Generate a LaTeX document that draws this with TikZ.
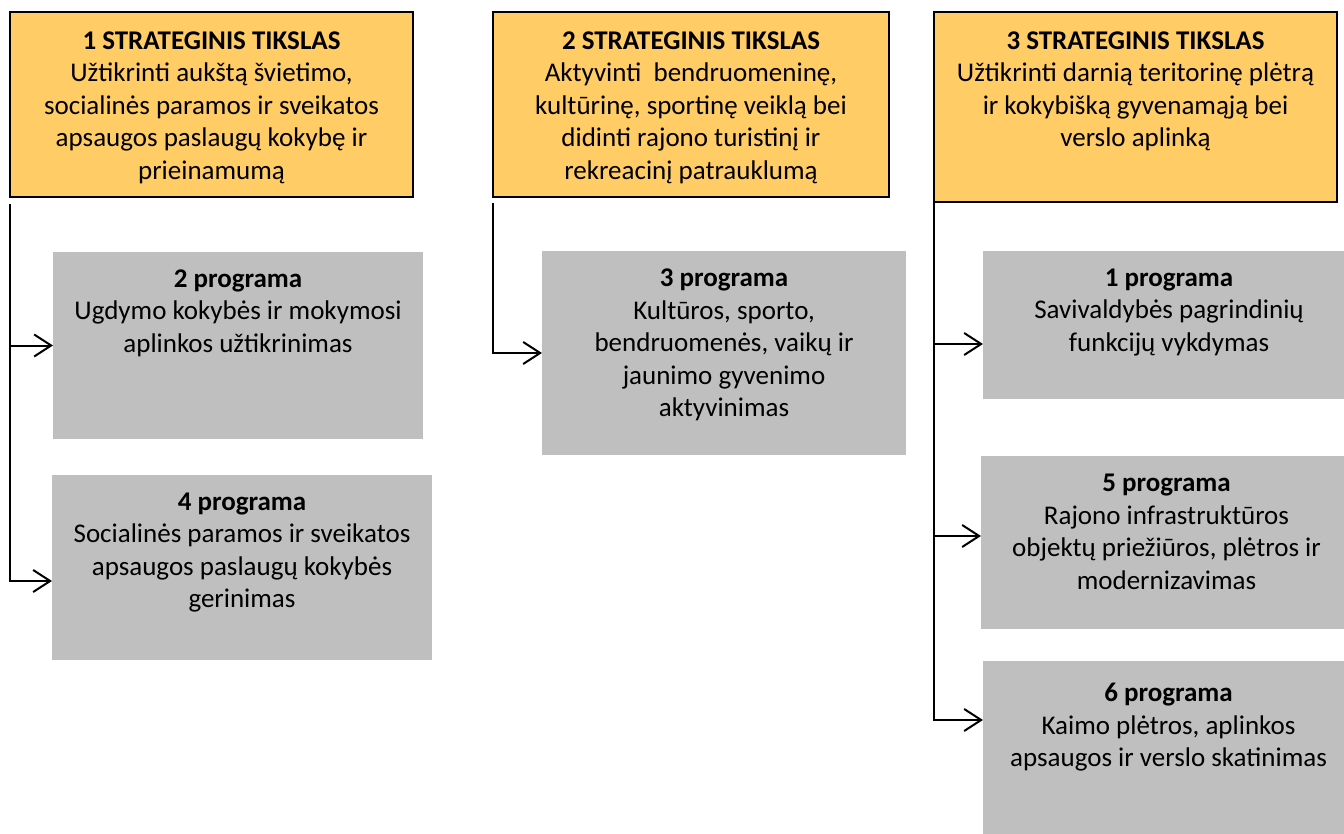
\documentclass[tikz,border=0pt]{standalone}
\usepackage{fontspec}
\setmainfont{Carlito}
\usetikzlibrary{arrows.meta}
\definecolor{goalfill}{HTML}{FFCC66}
\definecolor{progfill}{HTML}{BFBFBF}
\begin{document}
\begin{tikzpicture}[x=1pt,y=-1pt,
  goalbox/.style={draw=black, line width=1.5pt, fill=goalfill, anchor=north west, inner sep=0pt, outer sep=0pt},
  progbox/.style={fill=progfill, anchor=north west, inner sep=0pt, outer sep=0pt},
  txt/.style={anchor=north, inner sep=0pt, align=center, font=\fontsize{27}{32.5}\selectfont},
  conn/.style={line width=2pt, -{Straight Barb[length=17pt,width=22pt,line width=2pt]}}]
\useasboundingbox (0,0) rectangle (1344,834);

% goal boxes
\node[goalbox, minimum width=403pt, minimum height=185pt] (t1) at (10,12) {};
\node[goalbox, minimum width=396pt, minimum height=185pt] (t2) at (493,12) {};
\node[goalbox, minimum width=403pt, minimum height=190pt] (t3) at (934,12) {};

% programme boxes
\node[progbox, minimum width=370pt, minimum height=187pt] (p2) at (53,252) {};
\node[progbox, minimum width=380pt, minimum height=185pt] (p4) at (52,475) {};
\node[progbox, minimum width=364pt, minimum height=204pt] (p3) at (542,251) {};
\node[progbox, minimum width=361pt, minimum height=148pt] (p1) at (983,251) {};
\node[progbox, minimum width=363pt, minimum height=173pt] (p5) at (981,456) {};
\node[progbox, minimum width=361pt, minimum height=173pt] (p6) at (983,661) {};

% texts
\node[txt] (t1x) at ([yshift=-14.25pt]t1.north) {\strut\textbf{1 STRATEGINIS TIKSLAS}\\Užtikrinti aukštą švietimo,\\socialinės paramos ir sveikatos\\apsaugos paslaugų kokybę ir\\prieinamumą};
\node[txt] (t2x) at ([yshift=-14.25pt]t2.north) {\strut\textbf{2 STRATEGINIS TIKSLAS}\\Aktyvinti\ \ bendruomeninę,\\kultūrinę, sportinę veiklą bei\\didinti rajono turistinį ir\\rekreacinį patrauklumą};
\node[txt] (t3x) at ([yshift=-14.25pt]t3.north) {\strut\textbf{3 STRATEGINIS TIKSLAS}\\Užtikrinti darnią teritorinę plėtrą\\ir kokybišką gyvenamąją bei\\verslo aplinką};

\node[txt] (p2x) at ([yshift=-12.25pt]p2.north) {\strut\textbf{2 programa}\\Ugdymo kokybės ir mokymosi\\aplinkos užtikrinimas};
\node[txt] (p4x) at ([yshift=-12.25pt]p4.north) {\strut\textbf{4 programa}\\Socialinės paramos ir sveikatos\\apsaugos paslaugų kokybės\\gerinimas};
\node[txt] (p3x) at ([yshift=-12.75pt]p3.north) {\strut\textbf{3 programa}\\Kultūros, sporto,\\bendruomenės, vaikų ir\\jaunimo gyvenimo\\aktyvinimas};
\node[txt] (p1x) at ([xshift=5.5pt,yshift=-12.25pt]p1.north) {\strut\textbf{1 programa}\\Savivaldybės pagrindinių\\funkcijų vykdymas};
\node[txt] (p5x) at ([xshift=4pt,yshift=-12.75pt]p5.north) {\strut\textbf{5 programa}\\Rajono infrastruktūros\\objektų priežiūros, plėtros ir\\modernizavimas};
\node[txt] (p6x) at ([xshift=5pt,yshift=-18pt]p6.north) {\strut\textbf{6 programa}\\Kaimo plėtros, aplinkos\\apsaugos ir verslo skatinimas};

% connector end points
\coordinate (e4) at ([yshift=-13.5pt]p4.west);
\coordinate (e1) at ([yshift=-19pt]p1.west);
\coordinate (e5) at ([yshift=6.5pt]p5.west);
\coordinate (e6) at ([yshift=27.5pt]p6.west);

% connectors
\draw[conn] ([yshift=-7pt]t1.south west) |- (e4);
\draw[conn] (t1.south west |- p2.west) -- (p2.west);
\draw[conn] ([yshift=-6pt]t2.south west) |- (p3.west);
\draw[conn] (t3.south west) |- (e6);
\draw[conn] (t3.south west |- e1) -- (e1);
\draw[conn] (t3.south west |- e5) -- (e5);
\end{tikzpicture}
\end{document}
